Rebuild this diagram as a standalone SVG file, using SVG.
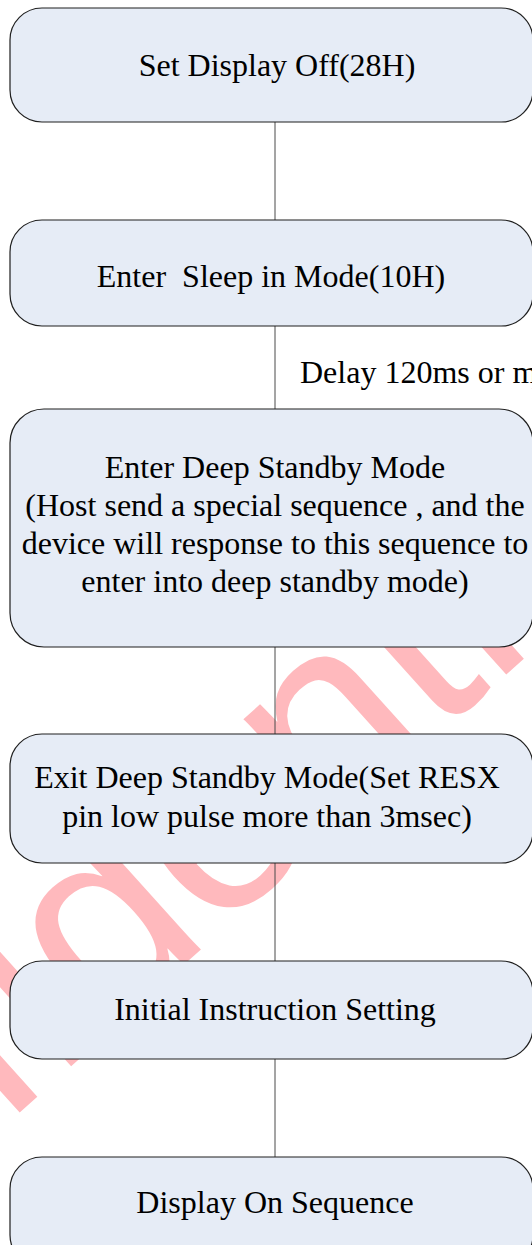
<svg xmlns="http://www.w3.org/2000/svg" width="532" height="1245" viewBox="0 0 532 1245">
  <style>
    .box { fill: #e6ecf6; stroke: #1f1f1f; stroke-width: 1.2; }
    .lbl { font-family: "Liberation Serif", "Times New Roman", serif; font-size: 32px; fill: #000000; text-anchor: middle; }
    .note { font-family: "Liberation Serif", "Times New Roman", serif; font-size: 32px; fill: #000000; }
    .link { stroke: #4a4a4a; stroke-width: 1; fill: none; }
    .mark { font-family: "Liberation Sans", Arial, sans-serif; font-size: 270px; fill: #ffb9bd; }
  </style>

  <rect x="0" y="0" width="532" height="1245" fill="#ffffff"/>

  <!-- background watermark, sits under everything else -->
  <g id="watermark" transform="rotate(-42)">
    <text class="mark" x="-1249" y="840">Confidential</text>
  </g>

  <!-- vertical links between the steps -->
  <g id="connectors">
    <line class="link" x1="275" y1="122" x2="275" y2="220"/>
    <line class="link" x1="275" y1="326" x2="275" y2="409"/>
    <line class="link" x1="275" y1="647" x2="275" y2="734"/>
    <line class="link" x1="275" y1="863" x2="275" y2="961"/>
    <line class="link" x1="275" y1="1059" x2="275" y2="1157"/>
    <text class="note" x="300" y="383">Delay 120ms or more</text>
  </g>

  <g id="step-display-off">
    <rect class="box" x="10" y="8" width="523" height="114" rx="32" ry="32"/>
    <text class="lbl" x="277" y="76">Set Display Off(28H)</text>
  </g>

  <g id="step-sleep-in">
    <rect class="box" x="10" y="220" width="523" height="106" rx="32" ry="32"/>
    <text class="lbl" x="271" y="287" xml:space="preserve">Enter  Sleep in Mode(10H)</text>
  </g>

  <g id="step-enter-deep-standby">
    <rect class="box" x="10" y="409" width="523" height="238" rx="34" ry="34"/>
    <text class="lbl" x="275" y="478">Enter Deep Standby Mode</text>
    <text class="lbl" x="275" y="516">(Host send a special sequence , and the</text>
    <text class="lbl" x="275" y="554">device will response to this sequence to</text>
    <text class="lbl" x="275" y="592">enter into deep standby mode)</text>
  </g>

  <g id="step-exit-deep-standby">
    <rect class="box" x="10" y="734" width="523" height="129" rx="32" ry="32"/>
    <text class="lbl" x="267" y="788">Exit Deep Standby Mode(Set RESX</text>
    <text class="lbl" x="267" y="827">pin low pulse more than 3msec)</text>
  </g>

  <g id="step-initial-setting">
    <rect class="box" x="10" y="961" width="523" height="98" rx="32" ry="32"/>
    <text class="lbl" x="275" y="1020">Initial Instruction Setting</text>
  </g>

  <g id="step-display-on">
    <rect class="box" x="10" y="1157" width="523" height="110" rx="32" ry="32"/>
    <text class="lbl" x="275" y="1213">Display On Sequence</text>
  </g>
</svg>
